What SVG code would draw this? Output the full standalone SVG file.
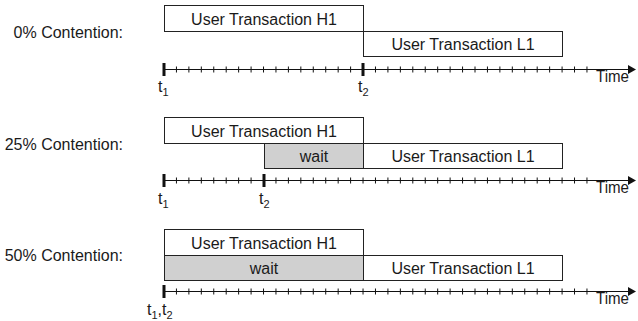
<svg xmlns="http://www.w3.org/2000/svg" width="638" height="321" viewBox="0 0 638 321">
<style>
text{font-family:"Liberation Sans",Arial,sans-serif;fill:#1a1a1a}
.lbl{font-size:16px;text-anchor:end}
.bt{font-size:16px;text-anchor:middle}
.t{font-size:16px}
.tm{font-size:16px}
.sub{font-size:11px}
.box{fill:#fff;stroke:#222;stroke-width:1}
.wait{fill:#d0d0d0;stroke:#222;stroke-width:1}
.ax{fill:none;stroke:#111;stroke-width:1}
.thick{fill:#111}
</style>
<defs>
<marker id="arr" viewBox="0 0 10 10" refX="0" refY="5" markerWidth="8" markerHeight="9" markerUnits="userSpaceOnUse" orient="auto" preserveAspectRatio="none">
<path d="M0 0L10 5L0 10z" fill="#111"/>
</marker>
<g id="axis">
<path class="ax" d="M164 0H628" marker-end="url(#arr)"/>
<path class="ax" d="M176.44 -3v6M188.88 -3v6M201.32 -3v6M213.76 -3v6M226.2 -3v6M238.64 -3v6M251.08 -3v6M263.52 -3v6M275.96 -3v6M288.4 -3v6M300.84 -3v6M313.28 -3v6M325.72 -3v6M338.16 -3v6M350.6 -3v6M363.04 -3v6M375.48 -3v6M387.92 -3v6M400.36 -3v6M412.8 -3v6M425.24 -3v6M437.68 -3v6M450.12 -3v6M462.56 -3v6M475 -3v6M487.44 -3v6M499.88 -3v6M512.32 -3v6M524.76 -3v6M537.2 -3v6M549.64 -3v6M562.08 -3v6M574.52 -3v6M586.96 -3v6"/>
<rect class="thick" x="162.5" y="-6.5" width="3" height="13"/>
<text class="tm" x="596" y="12" textLength="33" lengthAdjust="spacingAndGlyphs">Time</text>
</g>
</defs>

<!-- Row 1: 0% -->
<g id="row1-label"><text class="lbl" x="123" y="38">0% Contention:</text></g>
<g id="row1-h1"><rect class="box" x="164.5" y="5.5" width="199" height="26"/><text class="bt" x="264" y="24.5">User Transaction H1</text></g>
<g id="row1-l1"><rect class="box" x="363.5" y="31.5" width="199" height="25"/><text class="bt" x="463" y="49.5">User Transaction L1</text></g>
<g id="row1-axis">
<use href="#axis" transform="translate(0,69.5)"/>
<rect class="thick" x="361.5" y="63" width="3" height="13"/>
<text class="t" x="158" y="92">t<tspan class="sub" dy="4">1</tspan></text>
<text class="t" x="358" y="92">t<tspan class="sub" dy="4">2</tspan></text>
</g>

<!-- Row 2: 25% -->
<g id="row2-label"><text class="lbl" x="123" y="149.5">25% Contention:</text></g>
<g id="row2-h1"><rect class="box" x="164.5" y="117.5" width="199" height="26"/><text class="bt" x="264" y="136.5">User Transaction H1</text></g>
<g id="row2-wait"><rect class="wait" x="264.5" y="143.5" width="99" height="25"/><text class="bt" x="314" y="161.5">wait</text></g>
<g id="row2-l1"><rect class="box" x="363.5" y="143.5" width="199" height="25"/><text class="bt" x="463" y="161.5">User Transaction L1</text></g>
<g id="row2-axis">
<use href="#axis" transform="translate(0,180.5)"/>
<rect class="thick" x="262.5" y="174" width="3" height="13"/>
<text class="t" x="158" y="204">t<tspan class="sub" dy="4">1</tspan></text>
<text class="t" x="259" y="204">t<tspan class="sub" dy="4">2</tspan></text>
</g>

<!-- Row 3: 50% -->
<g id="row3-label"><text class="lbl" x="123" y="261">50% Contention:</text></g>
<g id="row3-h1"><rect class="box" x="164.5" y="229.5" width="199" height="26"/><text class="bt" x="264" y="248.5">User Transaction H1</text></g>
<g id="row3-wait"><rect class="wait" x="164.5" y="255.5" width="199" height="25"/><text class="bt" x="264" y="273.5">wait</text></g>
<g id="row3-l1"><rect class="box" x="363.5" y="255.5" width="199" height="25"/><text class="bt" x="463" y="273.5">User Transaction L1</text></g>
<g id="row3-axis">
<use href="#axis" transform="translate(0,291.5)"/>
<text class="t" x="147" y="315">t<tspan class="sub" dy="4">1</tspan><tspan dy="-4">,t</tspan><tspan class="sub" dy="4">2</tspan></text>
</g>
</svg>
